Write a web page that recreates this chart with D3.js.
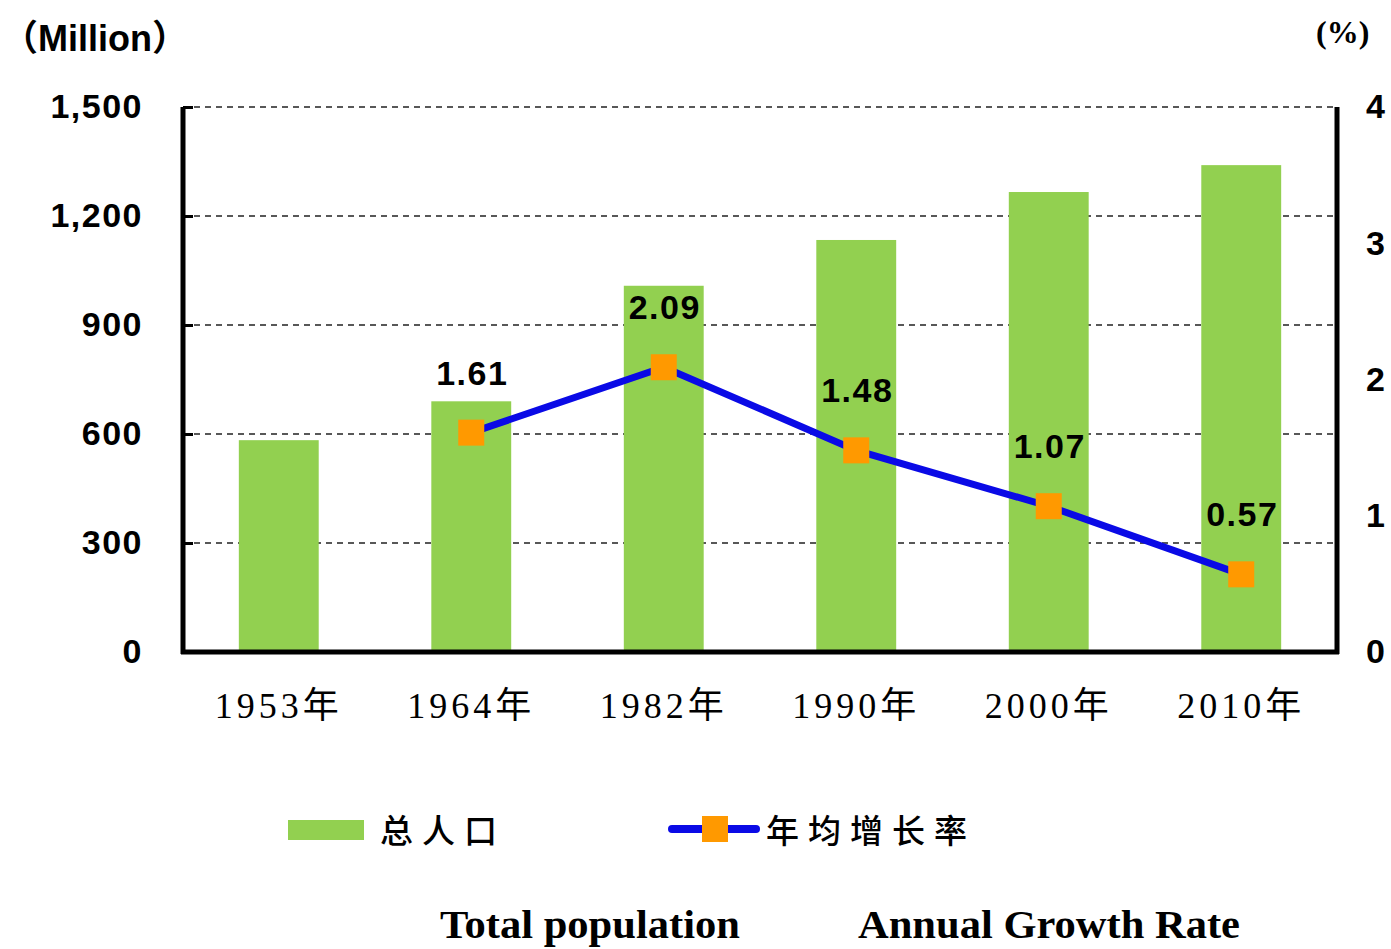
<!DOCTYPE html>
<html>
<head>
<meta charset="utf-8">
<script src="https://cdn.jsdelivr.net/npm/d3@7"></script>
<style>
  body { margin: 0; background: #fff; }
</style>
</head>
<body>
<svg id="chart" width="1391" height="949"></svg>
<script>
// data
var years = ["1953年", "1964年", "1982年", "1990年", "2000年", "2010年"];
var population = [583, 690, 1008, 1134, 1266, 1340];
var growthYears = ["1964年", "1982年", "1990年", "2000年", "2010年"];
var growthRate = [1.61, 2.09, 1.48, 1.07, 0.57];
var leftTicks = [0, 300, 600, 900, 1200, 1500];
var rightTicks = [0, 1, 2, 3, 4];

var svg = d3.select("#chart");
var margin = {top: 107, right: 54, bottom: 297, left: 183};
var width = 1391 - margin.left - margin.right,
    height = 949 - margin.top - margin.bottom;

var boldSans = "'Liberation Sans', Arial, sans-serif";
var cjk = "'Noto Sans CJK SC', sans-serif";

var x = d3.scaleBand().domain(years).range([0, width]).paddingInner(0.585).paddingOuter(0.29);
var yL = d3.scaleLinear().domain([0, 1500]).range([height, 0]);
var yR = d3.scaleLinear().domain([0, 4]).range([height, 0]);

var g = svg.append("g").attr("transform", "translate(" + margin.left + "," + margin.top + ")");

// dashed gridlines
g.append("g").selectAll("line")
    .data(leftTicks.slice(1))
    .enter().append("line")
    .attr("x1", 0).attr("x2", width)
    .attr("y1", d => yL(d)).attr("y2", d => yL(d))
    .attr("stroke", "#222")
    .attr("stroke-width", 1.5)
    .attr("stroke-dasharray", "6,5");

// bars
g.append("g").attr("fill", "#92d050")
    .selectAll("rect")
    .data(population)
    .enter().append("rect")
    .attr("x", (d, i) => x(years[i]))
    .attr("y", d => yL(d))
    .attr("width", x.bandwidth())
    .attr("height", d => yL(0) - yL(d));

// axes
var axisL = g.append("g")
    .call(d3.axisLeft(yL).tickValues(leftTicks).tickSize(-10).tickPadding(40).tickFormat(d3.format(",")));
axisL.select(".domain").attr("stroke-width", 5).attr("d", "M0," + (height + 2) + "V0");
axisL.selectAll(".tick line").attr("stroke-width", 3);
axisL.selectAll("text")
    .attr("font-family", boldSans).attr("font-weight", "bold").attr("font-size", 34)
    .attr("letter-spacing", 1.5).attr("fill", "#000");

var axisR = g.append("g").attr("transform", "translate(" + width + ",0)")
    .call(d3.axisRight(yR).tickValues(rightTicks).tickSize(0).tickPadding(29).tickFormat(d3.format("d")));
axisR.select(".domain").attr("stroke-width", 5).attr("d", "M0,0V" + (height + 2));
axisR.selectAll("text")
    .attr("font-family", boldSans).attr("font-weight", "bold").attr("font-size", 34).attr("fill", "#000");

var axisB = g.append("g").attr("transform", "translate(0," + height + ")")
    .call(d3.axisBottom(x).tickSize(0).tickPadding(40));
axisB.select(".domain").attr("stroke-width", 5).attr("d", "M-2,0H" + (width + 2));
axisB.selectAll("text")
    .attr("font-family", "'Liberation Serif', 'Noto Sans CJK SC', serif")
    .attr("font-size", 36).attr("letter-spacing", 4).attr("fill", "#000");

// growth line
var xc = d => x(d) + x.bandwidth() / 2;
var line = d3.line()
    .x((d, i) => xc(growthYears[i]))
    .y(d => yR(d));

g.append("path")
    .datum(growthRate)
    .attr("fill", "none")
    .attr("stroke", "#0a0ae6")
    .attr("stroke-width", 7)
    .attr("d", line);

g.append("g").selectAll("rect")
    .data(growthRate)
    .enter().append("rect")
    .attr("x", (d, i) => xc(growthYears[i]) - 13)
    .attr("y", d => yR(d) - 13)
    .attr("width", 26).attr("height", 26)
    .attr("fill", "#ff9900");

g.append("g").selectAll("text")
    .data(growthRate)
    .enter().append("text")
    .attr("x", (d, i) => xc(growthYears[i]) + 1)
    .attr("y", d => yR(d) - 48)
    .attr("text-anchor", "middle")
    .attr("font-family", boldSans).attr("font-weight", "bold").attr("font-size", 34)
    .attr("letter-spacing", 1.5)
    .text(d => d3.format(".2f")(d));

// unit labels
svg.append("text").attr("x", 2).attr("y", 51)
    .attr("font-family", "'Liberation Sans', 'Noto Sans CJK SC', sans-serif")
    .attr("font-weight", "bold").attr("font-size", 36)
    .text("（Million）");
svg.append("text").attr("x", 1316).attr("y", 43)
    .attr("font-family", "'Liberation Serif', serif").attr("font-weight", "bold").attr("font-size", 32)
    .text("(%)");

// legend
var legend = svg.append("g");
legend.append("rect").attr("x", 288).attr("y", 820).attr("width", 76).attr("height", 20).attr("fill", "#92d050");
legend.append("text").attr("x", 380).attr("y", 843)
    .attr("font-family", cjk).attr("font-weight", 500).attr("font-size", 33)
    .attr("letter-spacing", 9).text("总人口");

legend.append("line").attr("x1", 672).attr("x2", 756).attr("y1", 829).attr("y2", 829)
    .attr("stroke", "#0a0ae6").attr("stroke-width", 8).attr("stroke-linecap", "round");
legend.append("rect").attr("x", 702).attr("y", 816).attr("width", 26).attr("height", 26).attr("fill", "#ff9900");
legend.append("text").attr("x", 766).attr("y", 843)
    .attr("font-family", cjk).attr("font-weight", 500).attr("font-size", 33)
    .attr("letter-spacing", 9).text("年均增长率");

legend.append("text").attr("x", 440).attr("y", 938)
    .attr("font-family", "'Liberation Serif', serif").attr("font-weight", "bold").attr("font-size", 40)
    .attr("textLength", 300).attr("lengthAdjust", "spacingAndGlyphs")
    .text("Total population");
legend.append("text").attr("x", 858).attr("y", 938)
    .attr("font-family", "'Liberation Serif', serif").attr("font-weight", "bold").attr("font-size", 40)
    .attr("textLength", 382).attr("lengthAdjust", "spacingAndGlyphs")
    .text("Annual Growth Rate");
</script>
</body>
</html>
